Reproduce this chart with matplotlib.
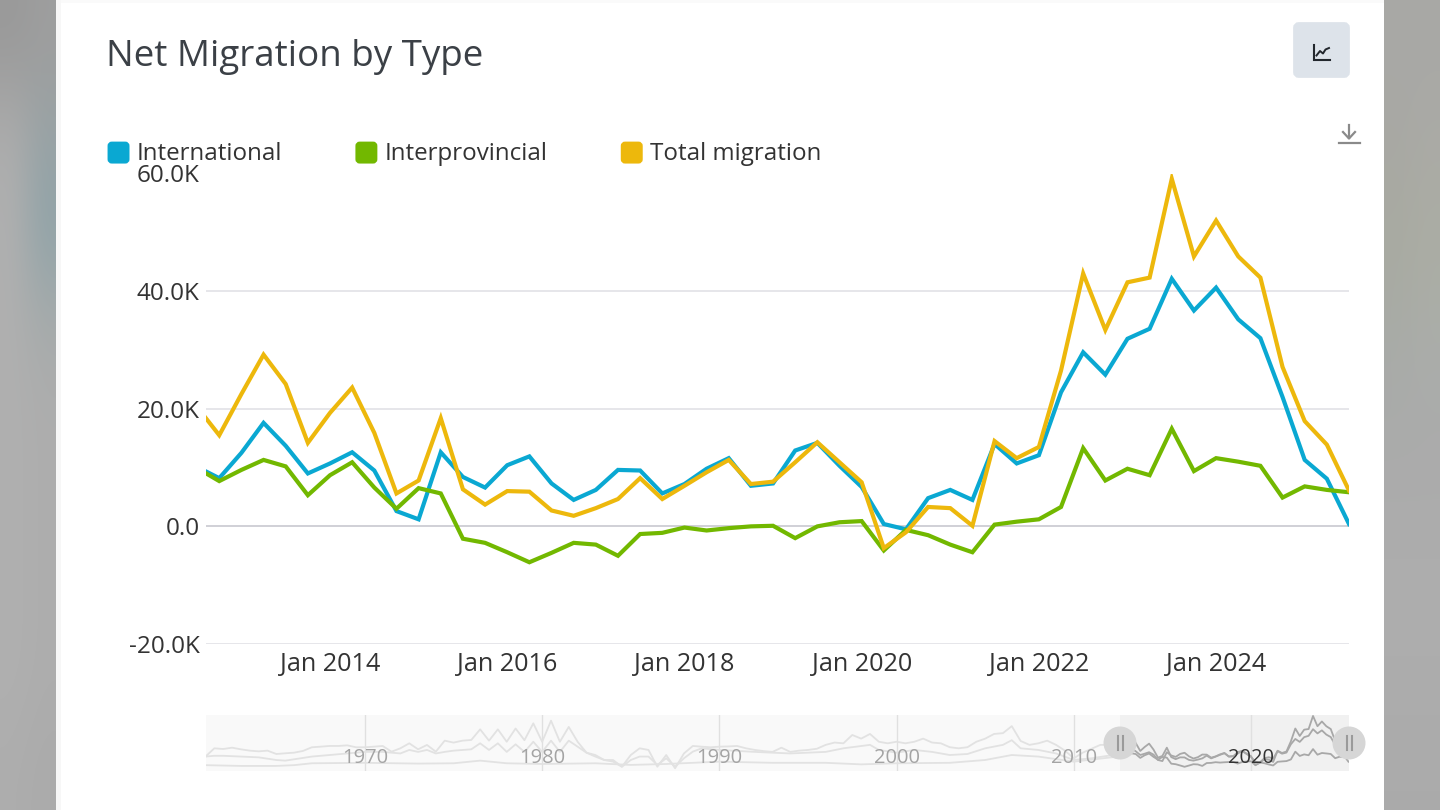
import numpy as np
import matplotlib
matplotlib.use("Agg")
import matplotlib.pyplot as plt
from matplotlib.patches import FancyBboxPatch, Circle, Rectangle
from matplotlib.lines import Line2D
from matplotlib.legend_handler import HandlerPatch

plt.rcParams['font.family'] = ['Open Sans', 'DejaVu Sans']

# ---- main chart data (thousands), quarterly from Jul 2012 to Jul 2025
START_YEAR = 2012.5
international = [10.1, 8.2, 12.5, 17.6, 13.7, 9.0, 10.7, 12.6, 9.5, 2.6, 1.2, 12.6, 8.4, 6.6, 10.4, 11.9, 7.3, 4.5,
                 6.2, 9.6, 9.5, 5.6, 7.2, 9.8, 11.6, 6.9, 7.3, 12.9, 14.2, 10.3, 6.7, 0.4, -0.5, 4.8, 6.2, 4.5,
                 14.0, 10.7, 12.1, 22.8, 29.6, 25.8, 31.9, 33.6, 42.1, 36.7, 40.6, 35.2, 32.0, 22.0, 11.3, 8.1, 0.4]
interprovincial = [9.9, 7.7, 9.6, 11.3, 10.2, 5.3, 8.7, 10.9, 6.6, 3.0, 6.5, 5.6, -2.1, -2.8, -4.4, -6.1, -4.5, -2.8,
                   -3.1, -5.0, -1.3, -1.1, -0.2, -0.7, -0.3, 0.0, 0.1, -2.0, 0.0, 0.7, 0.9, -4.1, -0.6, -1.5, -3.1, -4.4,
                   0.3, 0.8, 1.2, 3.3, 13.3, 7.8, 9.8, 8.7, 16.6, 9.4, 11.6, 11.0, 10.3, 4.9, 6.8, 6.2, 5.8]
total_migration = [20.3, 15.5, 22.5, 29.2, 24.2, 14.2, 19.3, 23.6, 15.9, 5.6, 7.8, 18.4, 6.3, 3.7, 6.0, 5.9, 2.7, 1.8,
                   3.1, 4.65, 8.2, 4.65, 6.9, 9.2, 11.3, 7.2, 7.6, 10.9, 14.3, 10.9, 7.5, -3.7, -1.0, 3.3, 3.1, 0.1,
                   14.5, 11.6, 13.5, 26.5, 43.0, 33.4, 41.5, 42.3, 59.1, 45.9, 52.0, 45.9, 42.3, 27.1, 17.9, 13.9, 6.1]
series_names = ['International', 'Interprovincial', 'Total migration']
y_ticks = [-20, 0, 20, 40, 60]
y_labels = ['-20.0K', '0.0', '20.0K', '40.0K', '60.0K']
x_tick_years = [2014, 2016, 2018, 2020, 2022, 2024]
x_labels = ['Jan 2014', 'Jan 2016', 'Jan 2018', 'Jan 2020', 'Jan 2022', 'Jan 2024']

# ---- overview strip history (thousands), half-yearly from 1961 for total
over_total = [7, 17.6, 16.7, 18.4, 16.3, 14.6, 13.7, 14.6, 10.3, 11.2, 12, 14.2, 18.9, 19.7, 20.6, 20.6, 21.4, 18.9,
              18.9, 19.7, 20.6, 13.3, 17.6, 24, 16.3, 21.9, 13.3, 27.4, 24.9, 27.4, 28.3, 41.9, 27.4, 41.9,
              26, 43, 28, 49.6, 26, 53, 26, 45, 26, 12, 9, 2.6, 2.6, -6, 9, 17.6, 15.5, -6, 9, -8, 11, 20.6, 19.7,
              18.9, 19.7, 20, 20.6, 17.6, 15.5, 14, 13, 18.4, 13, 14.6, 15.5, 17, 22, 25, 24, 34.7, 30, 36, 26, 24,
              26, 24, 26, 30, 25, 24, 19, 17.6, 19, 26, 30, 36, 37, 46, 27, 22, 24, 27.4, 22, 14.6, 4.8, 12, 17, 22,
              22, 23]
over_intl_years = [1961, 1961.5, 1962, 1963, 1964, 1965, 1965.5, 1966, 1967, 1968, 1969, 1970, 1971, 1972, 1972.5,
                   1973, 1973.5, 1974, 1974.5, 1975, 1976, 1976.5, 1977, 1977.5, 1978, 1978.5, 1979, 1979.5, 1980,
                   1980.5, 1981, 1981.5, 1982, 1982.5, 1983, 1983.5, 1984, 1984.5, 1985, 1985.5, 1986, 1986.5, 1987,
                   1987.5, 1988, 1988.5, 1989, 1990, 1992, 1994, 1996, 1997, 1998.5, 1999, 2000, 2001, 2002, 2003,
                   2004, 2005, 2006, 2006.5, 2007, 2008, 2009, 2010, 2011, 2012.5]
over_intl = [7, 8, 8, 7, 6, 2.6, 1.8, 3.5, 7, 9, 11, 13, 13, 11, 15.5, 13, 15.5, 11, 13, 14.6, 16.3, 24, 15.5, 24,
             13, 22.7, 13, 26, 13, 27.4, 13, 27.4, 19.7, 12, 7, 2.6, 0.5, -6, 2.6, 7, 7, -3.7, 4.8, -5.9, 4.8, 13.3,
             17.6, 15.5, 13, 11, 13, 17.6, 22, 15.5, 12, 15.5, 13, 9, 10.3, 17.6, 22, 28, 17.6, 15.5, 11, 2.6, 4.8, 10]
over_inter_years = [1961, 1963, 1965, 1966, 1967, 1970, 1973, 1975, 1976.5, 1978, 1980, 1983, 1985, 1987, 1990, 1993,
                    1996, 1998, 2000, 2003, 2005, 2006.5, 2008, 2010, 2012.5]
over_inter = [-4, -5, -5, -4, -1.6, -1, -2, -1.6, 1.8, -1.6, -2.5, -1.6, -3.7, -2.5, 0.5, -1, -1, -3, -1.6, -1, 2.6,
              9, 7, 0.5, 7]
over_tick_years = [1970, 1980, 1990, 2000, 2010, 2020]

C_BLUE, C_GREEN, C_YELLOW = '#0AA8D2', '#72B800', '#EDB80C'
LW = 3.0
W, H = 1440, 810


def ax_px(x0, y0, x1, y1, **kw):
    return fig.add_axes([x0 / W, 1 - y1 / H, (x1 - x0) / W, (y1 - y0) / H], **kw)


fig = plt.figure(figsize=(14.4, 8.1), dpi=100, facecolor='white')

# ---- page background (blurred side bands and the white card)
bg = ax_px(0, 0, W, H, zorder=0)
bg.set_xlim(0, W); bg.set_ylim(H, 0); bg.axis('off')
left_band = np.array([[[.60, .60, .60], [.62, .62, .62]],
                      [[.68, .68, .68], [.60, .64, .65]],
                      [[.69, .69, .69], [.56, .64, .66]],
                      [[.69, .69, .69], [.65, .67, .67]],
                      [[.69, .69, .69], [.68, .68, .68]],
                      [[.69, .69, .69], [.68, .68, .68]],
                      [[.69, .69, .69], [.68, .68, .68]],
                      [[.69, .69, .69], [.68, .68, .68]],
                      [[.68, .68, .68], [.67, .67, .67]]])
right_band = np.array([[[.66, .66, .65], [.66, .66, .65]],
                       [[.66, .66, .64], [.67, .67, .65]],
                       [[.66, .67, .63], [.67, .68, .64]],
                       [[.66, .67, .66], [.67, .68, .67]],
                       [[.67, .67, .67], [.67, .67, .67]],
                       [[.68, .68, .68], [.68, .68, .68]],
                       [[.68, .68, .68], [.68, .68, .68]],
                       [[.67, .67, .67], [.67, .67, .67]]])
bg.imshow(left_band, extent=(0, 56, H, 0), aspect='auto', interpolation='bicubic')
bg.imshow(right_band, extent=(1384, W, H, 0), aspect='auto', interpolation='bicubic')
bg.add_patch(Rectangle((56, 0), 5, H, fc='#f7f7f7', ec='none'))
bg.add_patch(Rectangle((61, 3), 1323, H, fc='white', ec='none'))
bg.add_patch(Rectangle((61, 0), 1323, 3, fc='#fafafa', ec='none'))
bg.set_xlim(0, W); bg.set_ylim(H, 0)

fig.text(106 / W, 1 - 57 / H, 'Net Migration by Type', fontsize=26.5, color='#3b4046', va='center', ha='left')

# chart-type button and download icon
bg.add_patch(FancyBboxPatch((1298, 27), 47, 46, boxstyle='round,pad=0,rounding_size=1', fc='#dde3ea', ec='#dde3ea', lw=7))
bg.plot([1313.5, 1313.5, 1330], [45, 60, 60], color='#22272d', lw=1.5, solid_joinstyle='miter')
bg.plot([1316.5, 1320, 1323, 1325.5, 1329], [55.5, 51, 53.5, 49.5, 48], color='#22272d', lw=1.4)
bg.plot([1349, 1349], [125, 138], color='#8a8a8a', lw=1.6)
bg.plot([1343, 1349, 1355], [132, 138.5, 132], color='#8a8a8a', lw=1.6)
bg.plot([1339, 1360], [143, 143], color='#8a8a8a', lw=1.6)

# ---- main chart
years = START_YEAR + np.arange(len(total_migration)) * 0.25
ax = ax_px(206, 173.5, 1349, 644, zorder=1)
ax.patch.set_alpha(0)
ax.plot(years, international, color=C_BLUE, lw=LW, solid_joinstyle='miter', label=series_names[0], zorder=3)
ax.plot(years, interprovincial, color=C_GREEN, lw=LW, solid_joinstyle='miter', label=series_names[1], zorder=4)
ax.plot(years, total_migration, color=C_YELLOW, lw=LW, solid_joinstyle='miter', label=series_names[2], zorder=5)
ax.set_xlim(2014 - 124 / 88.6, 2025.5)
ax.set_ylim(-20, 60)
ax.set_yticks(y_ticks, y_labels)
ax.set_xticks(x_tick_years, x_labels)
ax.tick_params(length=0, labelcolor='#333333')
ax.tick_params(axis='y', pad=4.5, labelsize=17.5)
ax.tick_params(axis='x', pad=6, labelsize=18.2)
ax.grid(axis='y', color='#e2e2e6', lw=1.2)
ax.axhline(0, color='#cfcfd6', lw=1.3, zorder=1)
for s in ax.spines.values():
    s.set_visible(False)
ax.set_axisbelow(True)


class RoundSwatch(HandlerPatch):
    def create_artists(self, legend, orig, xd, yd, w, h, fs, trans):
        p = FancyBboxPatch((xd + 1.5, yd - 1.1), 13.6, 13.6, boxstyle='round,pad=0,rounding_size=2',
                           fc=orig.get_color(), ec=orig.get_color(), lw=2.2, transform=trans)
        return [p]


handles = [Line2D([], [], color=c) for c in (C_BLUE, C_GREEN, C_YELLOW)]
fs = 17.4
leg = ax.legend(handles, series_names, handler_map={Line2D: RoundSwatch()}, ncols=3, frameon=False,
                fontsize=fs, loc='lower left', bbox_to_anchor=((107 - 206) / 1143, (644 - 166.5) / 470.5),
                borderaxespad=0, borderpad=0, handlelength=1.0, handletextpad=0.215,
                columnspacing=(73 * 0.72) / fs, labelcolor='#333333')

# ---- overview strip
ov = ax_px(206, 715, 1349, 771, zorder=1)
ov.set_facecolor('#f9f9f9')
ov.set_xlim(1961.03, 2025.53)
ov.set_ylim(-11.5, 60.3)
ov.add_patch(Rectangle((2012.6, -11.5), 2025.53 - 2012.6, 71.8, fc='#f1f1f1', ec='none', zorder=1))
for y in over_tick_years:
    ov.axvline(y, color='#e0e0e0', lw=1, zorder=1.5)
over_years = 1961 + np.arange(len(over_total)) * 0.5
LIGHT = '#e2e2e2'
ov.plot(over_years, over_total, color=LIGHT, lw=1.3, zorder=2)
ov.plot(over_intl_years, over_intl, color=LIGHT, lw=1.3, zorder=2)
ov.plot(over_inter_years, over_inter, color=LIGHT, lw=1.3, zorder=2)
for vals in (international, interprovincial, total_migration):
    ov.plot(years, vals, color='#a8a8a8', lw=1.3, zorder=2.5)
ov.set_xticks([]); ov.set_yticks([])
for s in ov.spines.values():
    s.set_visible(False)
for y in over_tick_years:
    ov.text(y, 0.225, str(y), transform=ov.get_xaxis_transform(), ha='center', va='center', fontsize=14.5,
            color='#333333' if y == 2020 else '#a4a4a4', zorder=3)

# slider handles
top = ax_px(0, 0, W, H, zorder=3)
top.set_xlim(0, W); top.set_ylim(H, 0); top.axis('off'); top.patch.set_alpha(0)
for cx in (1120, 1349):
    top.add_patch(Circle((cx, 743), 16.5, fc='#d6d6d6', ec='none'))
    top.plot([cx - 2.5, cx - 2.5], [736, 750], color='#9a9a9a', lw=1.5)
    top.plot([cx + 2.5, cx + 2.5], [736, 750], color='#9a9a9a', lw=1.5)

fig.savefig('out.png', dpi=100)
